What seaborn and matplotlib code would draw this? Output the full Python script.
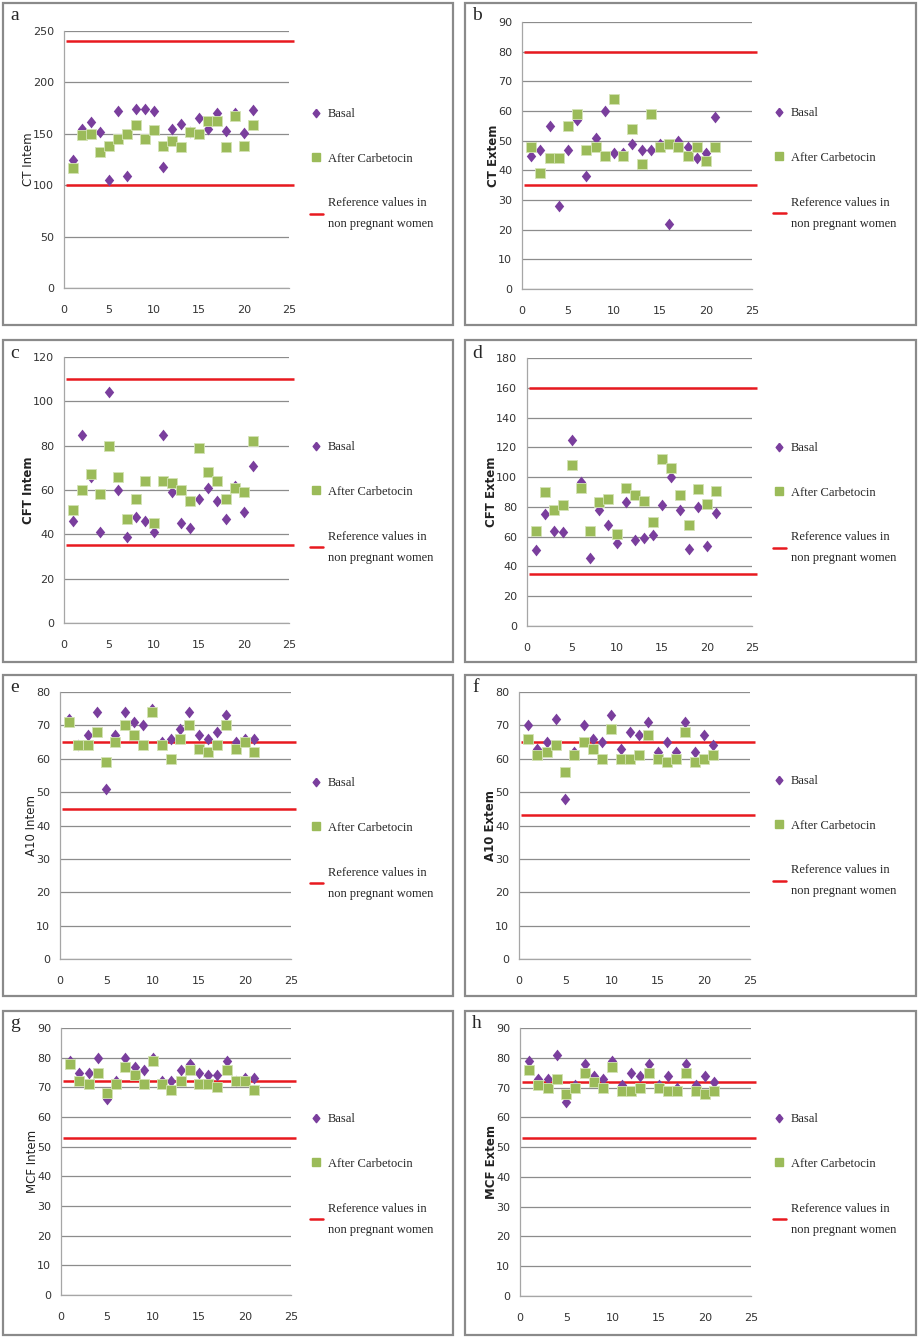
import matplotlib
matplotlib.use("Agg")
import matplotlib.pyplot as plt
import seaborn as sns
import pandas as pd
from matplotlib.lines import Line2D
from matplotlib.patches import Rectangle
from matplotlib.ticker import MultipleLocator, AutoMinorLocator

# patient index (x axis)
patients = list(range(1, 22))

# CT Intem
ct_intem_basal = [125, 155, 161, 152, 105, 172, 109, 174, 174, 172, 118, 155, 160, 152, 165, 155, 170, 153, 170, 151, 173]
ct_intem_after = [117, 149, 150, 132, 138, 145, 150, 159, 145, 154, 138, 143, 137, 152, 150, 162, 162, 137, 167, 138, 159]
ct_intem_ref = [240, 100]

# CT Extem
ct_extem_basal = [45, 47, 55, 28, 47, 57, 38, 51, 60, 46, 46, 49, 47, 47, 49, 22, 50, 48, 44, 46, 58]
ct_extem_after = [48, 39, 44, 44, 55, 59, 47, 48, 45, 64, 45, 54, 42, 59, 48, 49, 48, 45, 48, 43, 48]
ct_extem_ref = [80, 35]

# CFT Intem
cft_intem_basal = [46, 85, 66, 41, 104, 60, 39, 48, 46, 41, 85, 59, 45, 43, 56, 61, 55, 47, 62, 50, 71]
cft_intem_after = [51, 60, 67, 58, 80, 66, 47, 56, 64, 45, 64, 63, 60, 55, 79, 68, 64, 56, 61, 59, 82]
cft_intem_ref = [110, 35]

# CFT Extem
cft_extem_basal = [51, 75, 64, 63, 125, 97, 46, 78, 68, 56, 83, 58, 59, 61, 81, 100, 78, 52, 80, 54, 76]
cft_extem_after = [64, 90, 78, 81, 108, 93, 64, 83, 85, 62, 93, 88, 84, 70, 112, 106, 88, 68, 92, 82, 91]
cft_extem_ref = [160, 35]

# A10 Intem
a10_intem_basal = [72, 64, 67, 74, 51, 67, 74, 71, 70, 75, 65, 66, 69, 74, 67, 66, 68, 73, 65, 66, 66]
a10_intem_after = [71, 64, 64, 68, 59, 65, 70, 67, 64, 74, 64, 60, 66, 70, 63, 62, 64, 70, 63, 65, 62]
a10_intem_ref = [65, 45]

# A10 Extem
a10_extem_basal = [70, 63, 65, 72, 48, 62, 70, 66, 65, 73, 63, 68, 67, 71, 62, 65, 62, 71, 62, 67, 64]
a10_extem_after = [66, 61, 62, 64, 56, 61, 65, 63, 60, 69, 60, 60, 61, 67, 60, 59, 60, 68, 59, 60, 61]
a10_extem_ref = [65, 43]

# MCF Intem
mcf_intem_basal = [79, 75, 75, 80, 66, 72, 80, 77, 76, 80, 72, 72, 76, 78, 75, 74, 74, 79, 72, 73, 73]
mcf_intem_after = [78, 72, 71, 75, 68, 71, 77, 74, 71, 79, 71, 69, 72, 76, 71, 71, 70, 76, 72, 72, 69]
mcf_intem_ref = [72, 53]

# MCF Extem
mcf_extem_basal = [79, 73, 73, 81, 65, 71, 78, 74, 73, 79, 71, 75, 74, 78, 71, 74, 70, 78, 71, 74, 72]
mcf_extem_after = [76, 71, 70, 73, 68, 70, 75, 72, 70, 77, 69, 69, 70, 75, 70, 69, 69, 75, 69, 68, 69]
mcf_extem_ref = [72, 53]

panels = [
    ("a", "CT Intem", ct_intem_basal, ct_intem_after, ct_intem_ref, 250, 50, False),
    ("b", "CT Extem", ct_extem_basal, ct_extem_after, ct_extem_ref, 90, 10, True),
    ("c", "CFT Intem", cft_intem_basal, cft_intem_after, cft_intem_ref, 120, 20, True),
    ("d", "CFT Extem", cft_extem_basal, cft_extem_after, cft_extem_ref, 180, 20, True),
    ("e", "A10 Intem", a10_intem_basal, a10_intem_after, a10_intem_ref, 80, 10, False),
    ("f", "A10 Extem", a10_extem_basal, a10_extem_after, a10_extem_ref, 80, 10, True),
    ("g", "MCF Intem", mcf_intem_basal, mcf_intem_after, mcf_intem_ref, 90, 10, False),
    ("h", "MCF Extem", mcf_extem_basal, mcf_extem_after, mcf_extem_ref, 90, 10, True),
]

# layout in pixels: plot area (x0, x25, ytop, ybottom), panel box (left, top, right, bottom), legend top y
layout = [
    ((64, 289, 31, 288), (3, 3, 453, 325), 113),
    ((522, 752, 22, 289), (465, 3, 916, 325), 112),
    ((64, 289, 357, 623), (3, 340, 453, 662), 446),
    ((527, 752, 358, 626), (465, 340, 916, 662), 447),
    ((60, 291, 692, 959), (3, 675, 453, 996), 782),
    ((519, 750, 692, 959), (465, 675, 916, 996), 780),
    ((61, 291, 1028, 1295), (3, 1011, 453, 1335), 1118),
    ((520, 751, 1028, 1296), (465, 1011, 916, 1335), 1118),
]

sns.set_style("white")
plt.rcParams["font.family"] = ["DejaVu Sans"]

W, H = 921, 1340
fig = plt.figure(figsize=(W / 100, H / 100), dpi=100)

purple = "#7A3E9D"
green = "#9BBB59"
red = "#E8191F"
grey = "#8C8C8C"

# Excel-like diamond: a bit taller than wide
diamond = [(0, 1), (0.8, 0), (0, -1), (-0.8, 0), (0, 1)]

for (letter, ylab, basal, after, ref, ymax, ystep, bold), (plot, box, leg_y) in zip(panels, layout):
    x0, x1, yt, yb = plot
    ax = fig.add_axes([x0 / W, 1 - yb / H, (x1 - x0) / W, (yb - yt) / H])

    # panel frame
    bl, bt, br, bb = box
    fig.add_artist(Rectangle((bl / W, 1 - bb / H), (br - bl) / W, (bb - bt) / H,
                             transform=fig.transFigure, fill=False,
                             edgecolor="#8A8A8A", linewidth=1.6))
    fig.text((bl + 7) / W, 1 - (bt + 13) / H, letter, family="Liberation Serif",
             fontsize=14, va="center", ha="left")

    df = pd.DataFrame({"patient": patients, "basal": basal, "after": after})

    ax.hlines(ref, 0.2, 25.5, color=red, linewidth=1.8, zorder=2, clip_on=False)
    sns.scatterplot(data=df, x="patient", y="basal", marker=diamond, s=72, color=purple,
                    linewidth=0, ax=ax, zorder=3, legend=False)
    sns.scatterplot(data=df, x="patient", y="after", marker="s", s=52, color=green,
                    edgecolor="#D4E3B5", linewidth=0.6, ax=ax, zorder=4, legend=False)

    ax.set_xlim(0, 25)
    ax.set_ylim(0, ymax)
    ax.xaxis.set_major_locator(MultipleLocator(5))
    ax.yaxis.set_major_locator(MultipleLocator(ystep))
    ax.yaxis.set_minor_locator(AutoMinorLocator(5))
    ax.yaxis.grid(True, color=grey, linewidth=0.9)
    ax.set_axisbelow(True)
    for s in ["top", "right"]:
        ax.spines[s].set_visible(False)
    for s in ["left", "bottom"]:
        ax.spines[s].set_color("#A6A6A6")
        ax.spines[s].set_linewidth(0.9)
    ax.tick_params(axis="both", which="major", direction="out", length=4, width=0.8,
                   color="#A6A6A6", labelsize=8, labelcolor="#333333", pad=3)
    ax.tick_params(axis="x", pad=8)
    ax.tick_params(axis="y", which="minor", direction="in", length=3, width=0.7, color="#A6A6A6")
    ax.set_xlabel("")
    ax.set_ylabel(ylab, fontsize=8.5, fontweight="bold" if bold else "normal",
                  color="#222222", labelpad=-1)

    handles = [
        Line2D([], [], marker=diamond, linestyle="none", color=purple, markersize=6),
        Line2D([], [], marker="s", linestyle="none", color=green, markersize=6),
        Line2D([], [], color=red, linewidth=1.8),
    ]
    labels = ["Basal", "After Carbetocin", "Reference values in\nnon pregnant women"]
    lx = 310 if x0 < 400 else 773
    leg = ax.legend(handles, labels, loc="upper left",
                    bbox_to_anchor=(lx / W, 1 - (leg_y - 5) / H),
                    bbox_transform=fig.transFigure, frameon=False,
                    prop={"family": "Liberation Serif", "size": 9},
                    handlelength=1.0, handletextpad=0.45, labelspacing=2.62,
                    borderpad=0, borderaxespad=0)
    leg.get_texts()[2].set_linespacing(2.0)

fig.savefig("out.png", dpi=100)
